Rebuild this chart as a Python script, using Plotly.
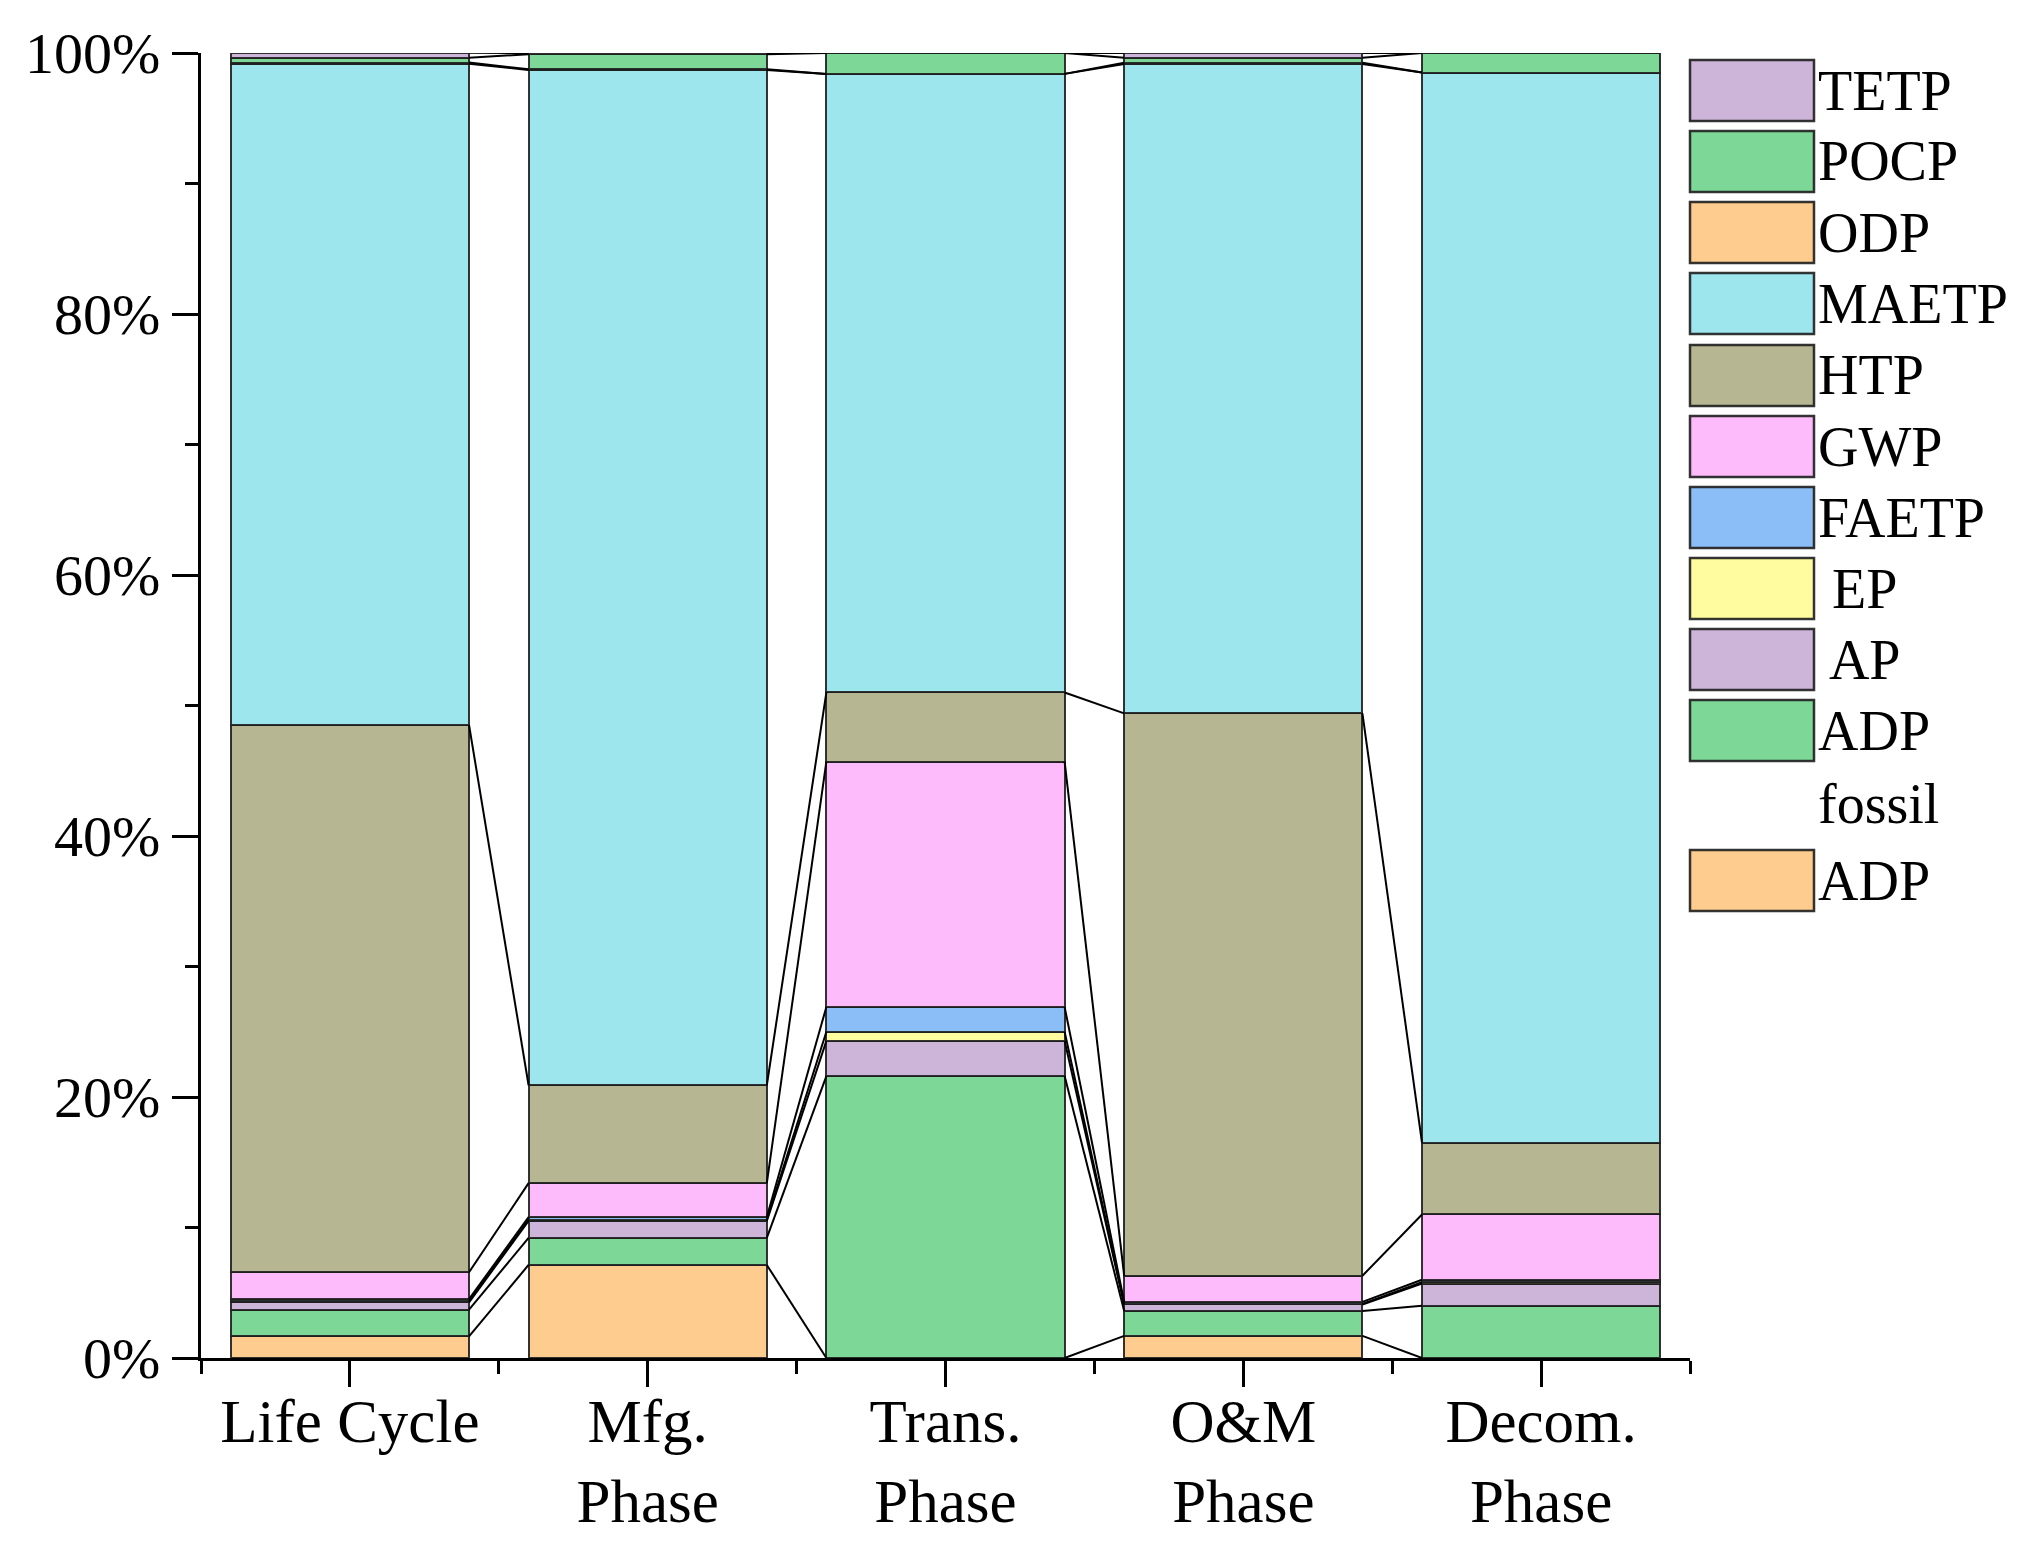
import plotly.graph_objects as go

# ---------------- data (percent contribution) ----------------
categories = ["Life Cycle", "Mfg.<br>Phase", "Trans.<br>Phase", "O&M<br>Phase", "Decom.<br>Phase"]

ADP        = [1.66, 7.13, 0.0, 1.70, 0.0]
ADP_fossil = [2.04, 2.07, 21.6, 1.90, 4.0]
AP         = [0.56, 1.30, 2.7, 0.50, 1.7]
EP         = [0.10, 0.10, 0.7, 0.05, 0.1]
FAETP      = [0.15, 0.20, 1.9, 0.15, 0.2]
GWP        = [2.06, 2.60, 18.8, 2.00, 5.0]
HTP        = [41.94, 7.50, 5.3, 43.10, 5.5]
MAETP      = [50.66, 77.80, 47.4, 49.76, 82.0]
ODP        = [0.10, 0.05, 0.0, 0.10, 0.0]
POCP       = [0.37, 1.15, 1.6, 0.37, 1.5]
TETP       = [0.37, 0.10, 0.0, 0.37, 0.0]

series_names = ["ADP", "ADP fossil", "AP", "EP", "FAETP", "GWP", "HTP", "MAETP", "ODP", "POCP", "TETP"]
series_values = [ADP, ADP_fossil, AP, EP, FAETP, GWP, HTP, MAETP, ODP, POCP, TETP]
series_colors = ["#FECC8E", "#7DD898", "#CDB5D9", "#FFFC9F", "#8BBDF6", "#FDBBFB",
                 "#B6B693", "#9EE6EE", "#FECC8E", "#7DD898", "#CDB5D9"]
legend_labels = ["TETP", "POCP", "ODP", "MAETP", "HTP", "GWP", "FAETP", " EP", " AP", "ADP<br>fossil", "ADP"]
legend_colors = ["#CDB5D9", "#7DD898", "#FECC8E", "#9EE6EE", "#B6B693", "#FDBBFB",
                 "#8BBDF6", "#FFFC9F", "#CDB5D9", "#7DD898", "#FECC8E"]

FONT = "Liberation Serif, Times New Roman, serif"
OFF = 8                      # page body margin
W, H = 2038 - 2 * OFF, 1554 - 2 * OFF
PLOT_W, PLOT_H = 1489, 1305
L, T = 201 - OFF, 53 - OFF
R = W - L - PLOT_W
B = H - T - PLOT_H
BAR_W = 0.8

xs = list(range(len(categories)))
fig = go.Figure()

for name, vals, col in zip(series_names, series_values, series_colors):
    fig.add_trace(go.Bar(
        x=xs, y=vals, name=name, width=BAR_W,
        marker=dict(color=col, line=dict(color="rgba(30,30,30,0.9)", width=2)),
        showlegend=False,
    ))

# connecting lines between neighbouring bars at every cumulative boundary
cum = []
for i in range(len(categories)):
    s = 0.0
    b = []
    for vals in series_values:
        s += vals[i]
        b.append(s)
    cum.append(b)

lx, ly = [], []
for i in range(len(categories) - 1):
    for k in range(len(series_values)):
        lx += [i + BAR_W / 2, i + 1 - BAR_W / 2, None]
        ly += [cum[i][k], cum[i + 1][k], None]
fig.add_trace(go.Scatter(x=lx, y=ly, mode="lines",
                         line=dict(color="black", width=2),
                         hoverinfo="skip", showlegend=False))

# ---------------- manual legend (large swatches) ----------------
def px2x(px):
    return (px - OFF - L) / PLOT_W
def py2y(py):
    return (T + PLOT_H - (py - OFF)) / PLOT_H

row_tops = [60, 131, 202, 273, 345, 416, 487, 558, 629, 700, 850]
sw_h = 61
shapes = []
annotations = []
for lab, col, top in zip(legend_labels, legend_colors, row_tops):
    shapes.append(dict(type="rect", xref="paper", yref="paper",
                       x0=px2x(1690), x1=px2x(1814), y0=py2y(top + sw_h), y1=py2y(top),
                       fillcolor=col, line=dict(color="rgba(30,30,30,0.9)", width=2.5)))
    cy = top + sw_h / 2
    if "<br>" in lab:
        cy += 37
    annotations.append(dict(xref="paper", yref="paper", x=px2x(1816), y=py2y(cy),
                            xanchor="left", yanchor="middle", text=lab, showarrow=False,
                            align="left",
                            font=dict(family=FONT, size=56, color="black")))

fig.update_layout(
    width=W, height=H,
    margin=dict(l=L, r=R, t=T, b=B, autoexpand=False),
    barmode="stack",
    paper_bgcolor="white", plot_bgcolor="white",
    font=dict(family=FONT, color="black"),
    shapes=shapes, annotations=annotations,
    showlegend=False,
    xaxis=dict(
        range=[-0.5, len(categories) - 0.5],
        tickmode="array", tickvals=xs, ticktext=categories,
        ticks="outside", ticklen=26, tickwidth=3, tickcolor="black",
        ticklabelstandoff=-18,
        showline=True, linecolor="black", linewidth=3,
        showgrid=False, zeroline=False,
        tickfont=dict(family=FONT, size=61, color="black"),
        minor=dict(tickmode="array", tickvals=[x + 0.5 for x in range(-1, len(categories))],
                   ticks="outside", ticklen=13, tickwidth=3, tickcolor="black", showgrid=False),
        automargin=False,
    ),
    yaxis=dict(
        range=[0, 100],
        tickmode="array", tickvals=[0, 20, 40, 60, 80, 100],
        ticktext=["0%", "20%", "40%", "60%", "80%", "100%"],
        ticks="outside", ticklen=26, tickwidth=3, tickcolor="black",
        showline=True, linecolor="black", linewidth=3,
        showgrid=False, zeroline=False,
        tickfont=dict(family=FONT, size=58, color="black"),
        minor=dict(tickmode="array", tickvals=[10, 30, 50, 70, 90],
                   ticks="outside", ticklen=13, tickwidth=3, tickcolor="black", showgrid=False),
        automargin=False,
    ),
)

fig.write_html("out.html")
